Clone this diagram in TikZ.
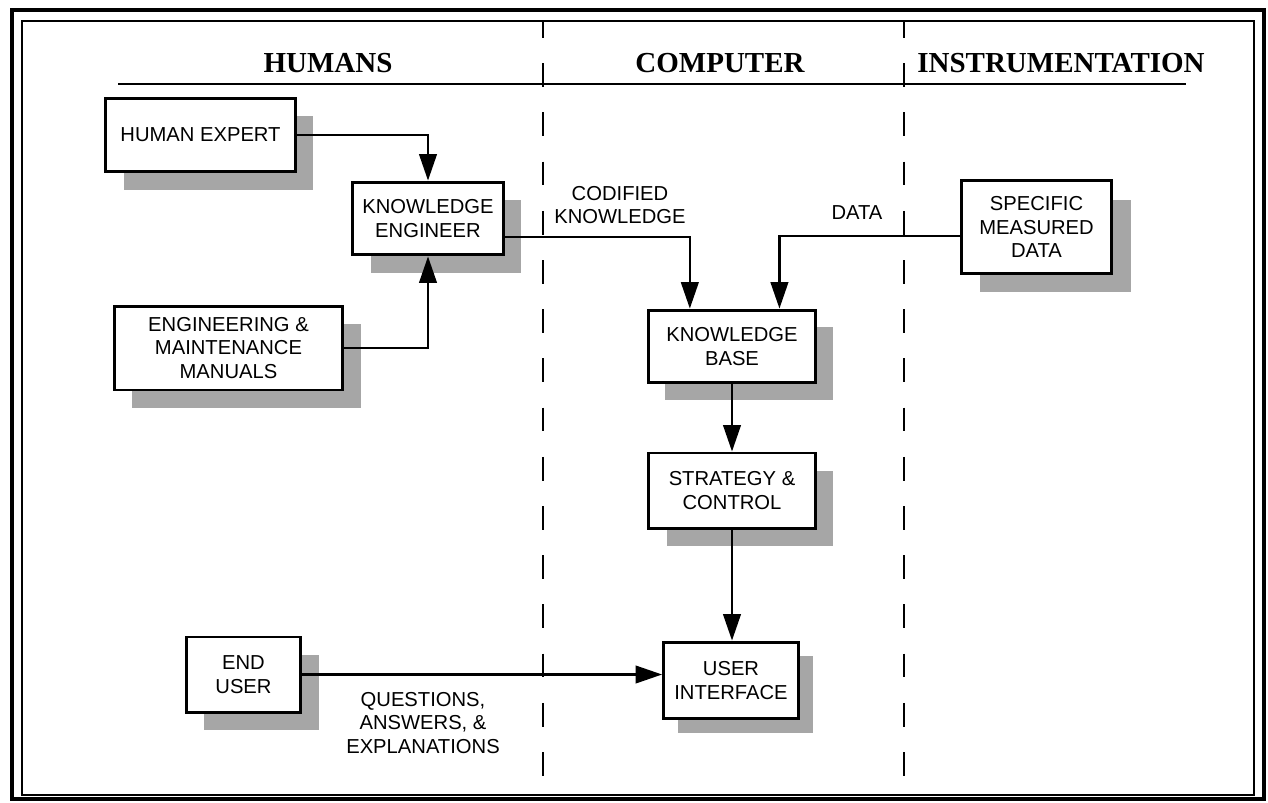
\documentclass[tikz,border=0pt]{standalone}
\usepackage{fontspec}
\setmainfont{Liberation Sans}
\newfontfamily\hdrfont{Liberation Serif}
\usetikzlibrary{arrows.meta,shadows,calc}
\begin{document}
\begin{tikzpicture}[x=0.02cm,y=-0.02cm,
  box/.style={draw, line width=1.7pt, fill=white, align=center, inner sep=0pt,
    font=\fontsize{11.5pt}{13.5pt}\selectfont,
    drop shadow={shadow xshift=#1, shadow yshift=-#1, fill=black!35, opacity=1}},
  box/.default=10.5pt,
  hdr/.style={font=\hdrfont\bfseries\fontsize{16.5pt}{18pt}\selectfont, inner sep=0pt},
  lbl/.style={align=center, font=\fontsize{11.5pt}{13.5pt}\selectfont, inner sep=0pt},
  conn/.style={line width=1.2pt, -{Triangle[length=15pt,width=10pt]}},
  divider/.style={line width=1.1pt, dash pattern=on 13.5pt off 14.5pt, dash phase=4.5pt}]

\useasboundingbox (0,0) rectangle (1268,802);
\fill[white] (0,0) rectangle (1268,802);

% frames
\draw[line width=2.4pt] (12,10) rectangle (1264,799);
\draw[line width=0.9pt] (22,21) rectangle (1254,795);

% headers
\node[hdr] (hhum) at (328,63) {HUMANS};
\node[hdr] (hcomp) at (720,63) {COMPUTER};
\node[hdr] (hinst) at (1061,63) {INSTRUMENTATION};
\draw[line width=1.1pt] (118,84) -- (1186,84);

% dividers
\draw[divider] (543,22) -- (543,795);
\draw[divider] (904,22) -- (904,795);

% boxes
\node[box, minimum width=107.6pt, minimum height=42.1pt] (he) at (200.5,135) {HUMAN EXPERT};
\node[box, minimum width=85.4pt, minimum height=41.5pt] (ke) at (428,218.5) {KNOWLEDGE\\ENGINEER};
\node[box, minimum width=130.3pt, minimum height=47.8pt] (man) at (228.5,348) {ENGINEERING \&\\MAINTENANCE\\MANUALS};
\node[box=11pt, minimum width=85.9pt, minimum height=52.4pt] (smd) at (1036.5,227) {SPECIFIC\\MEASURED\\DATA};
\node[box=9.5pt, minimum width=95.6pt, minimum height=41.5pt] (kb) at (732,346.5) {KNOWLEDGE\\BASE};
\node[box, minimum width=94.5pt, minimum height=42.7pt] (sc) at (732,490.5) {STRATEGY \&\\CONTROL};
\node[box=8pt, minimum width=76.8pt, minimum height=43.8pt] (ui) at (731,680.5) {USER\\INTERFACE};
\node[box, minimum width=65.4pt, minimum height=42.7pt] (eu) at (243.5,674.5) {END\\USER};

% labels
\node[lbl] (lcod) at (620,205) {CODIFIED\\KNOWLEDGE};
\node[lbl] (ldata) at (857,213) {DATA};
\node[lbl] (lqae) at (423,723) {QUESTIONS,\\ANSWERS, \&\\EXPLANATIONS};

% connectors
\draw[conn] (he.east) -| (ke.north);
\draw[conn] (man.east) -| (ke.south);
\draw[conn] ([yshift=-10.5pt]ke.east) -| ([xshift=-24pt]kb.north);
\draw[conn] ([yshift=-5pt]smd.west) -| ([xshift=27pt]kb.north);
\draw[conn] (kb.south) -- (kb.south |- sc.north);
\draw[conn] (sc.south) -- (sc.south |- ui.north);
\draw[conn] (eu.east) -- (eu.east -| ui.west);
\end{tikzpicture}
\end{document}
